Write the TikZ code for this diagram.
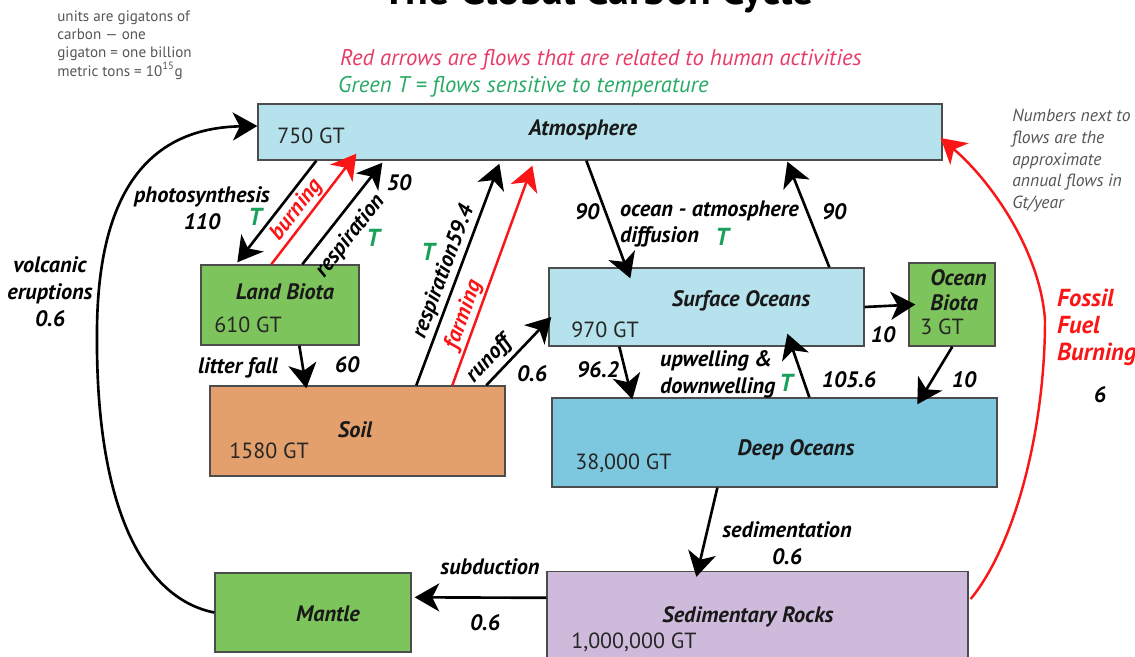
\documentclass[tikz,border=0pt]{standalone}
\usepackage{fontspec}
\setmainfont{PT Sans}
\usepackage{tikz}
\usetikzlibrary{arrows.meta,calc}
\definecolor{airblue}{RGB}{181,226,236}
\definecolor{deepblue}{RGB}{125,200,222}
\definecolor{biogreen}{RGB}{126,196,92}
\definecolor{soilbrown}{RGB}{228,160,108}
\definecolor{rockpurple}{RGB}{206,186,218}
\definecolor{humanred}{RGB}{250,22,22}
\definecolor{legendred}{RGB}{232,58,102}
\definecolor{legendgreen}{RGB}{40,170,100}
\definecolor{tempgreen}{RGB}{25,160,90}
\definecolor{notegray}{RGB}{85,85,85}

\begin{document}
\begin{tikzpicture}[
  x=0.02cm, y=-0.02cm,
  pool/.style={draw=black!70, line width=0.8pt, inner sep=0pt},
  poolname/.style={font=\fontsize{12.7}{14.5}\selectfont\bfseries\itshape, text=black!90, inner sep=0pt},
  amount/.style={font=\fontsize{12.5}{14}\selectfont, text=black!85, anchor=west, inner sep=0pt},
  flow/.style={-{Stealth[length=14pt,width=16pt,inset=4pt]}, line width=1.5pt},
  human/.style={flow, draw=humanred, line width=1.4pt},
  lbl/.style={font=\fontsize{12.7}{15.3}\selectfont\bfseries\itshape, inner sep=1pt},
  temp/.style={font=\fontsize{14}{15}\selectfont\bfseries\itshape, text=tempgreen, inner sep=0pt},
  note/.style={text=notegray, align=left, inner sep=0pt}
]
\useasboundingbox (0,0) rectangle (1135,656);
\clip (0,0) rectangle (1135,656);

% title and keys
\node[font=\fontsize{23.7}{26}\selectfont\bfseries, anchor=base] (title) at (598,4) {The Global Carbon Cycle};
\node[note, font=\fontsize{8.6}{10.5}\selectfont, anchor=north west] (units) at (57,10)
  {units are gigatons of\\carbon — one\\gigaton = one billion\\metric tons = 10\textsuperscript{15}g};
\node[font=\fontsize{12.9}{15}\selectfont\itshape, text=legendred, anchor=west] (redkey) at (334,60)
  {Red arrows are flows that are related to human activities};
\node[font=\fontsize{12.9}{15}\selectfont\itshape, text=legendgreen, anchor=west] (greenkey) at (332,87)
  {Green T = flows sensitive to temperature};
\node[note, font=\fontsize{10}{12.3}\selectfont\itshape, anchor=north west] (numkey) at (1012,109)
  {Numbers next to\\flows are the\\approximate\\annual flows in\\Gt/year};

% reservoirs
\node[pool, fill=airblue, minimum width=13.68cm, minimum height=1.12cm] (atmos) at (600,132) {};
\node[pool, fill=biogreen, minimum width=3.16cm, minimum height=1.6cm] (land) at (280,305) {};
\node[pool, fill=soilbrown, minimum width=5.9cm, minimum height=1.8cm] (soil) at (357.5,431) {};
\node[pool, fill=airblue, minimum width=6.3cm, minimum height=1.56cm] (surf) at (706.5,307) {};
\node[pool, fill=biogreen, minimum width=1.72cm, minimum height=1.66cm] (obiota) at (952,304.5) {};
\node[pool, fill=deepblue, minimum width=8.9cm, minimum height=1.78cm] (deep) at (774.5,442.5) {};
\node[pool, fill=rockpurple, minimum width=8.42cm, minimum height=1.9cm] (sed) at (757.5,619) {};
\node[pool, fill=biogreen, minimum width=3.92cm, minimum height=1.58cm] (mantle) at (313,612.5) {};

\node[poolname] (atmosname) at (583,130) {Atmosphere};
\node[amount] (atmosgt) at (277,136) {750 GT};
\node[poolname] (landname) at (285,292) {Land Biota};
\node[amount] (landgt) at (214,325) {610 GT};
\node[poolname] (soilname) at (355,430) {Soil};
\node[amount] (soilgt) at (229,451) {1580 GT};
\node[poolname] (surfname) at (741,301) {Surface Oceans};
\node[amount] (surfgt) at (571,330) {970 GT};
\node[poolname, align=left, anchor=west] (obioname) at (930,290) {Ocean\\Biota};
\node[amount] (obiogt) at (920,327) {3 GT};
\node[poolname] (deepname) at (796,450) {Deep Oceans};
\node[amount] (deepgt) at (575,463) {38,000 GT};
\node[poolname] (sedname) at (748,617) {Sedimentary Rocks};
\node[amount] (sedgt) at (571,642) {1,000,000 GT};
\node[poolname] (mantlename) at (328,614) {Mantle};

% land fluxes
\draw[flow] ($(atmos.south west)+(59,0)$) -- ($(land.north west)+(37,-2)$);
\draw[human] ($(land.north west)+(71,0)$) -- node[lbl, sloped, above=0pt, pos=0.42, text=humanred] (burnlbl) {burning} ($(atmos.south west)+(99,-7)$);
\draw[flow] ($(land.north west)+(102,0)$) -- node[lbl, sloped, below=4pt, pos=0.40] (resplbl) {respiration} ($(atmos.south west)+(125,2)$);
\draw[flow] ($(soil.north west)+(207,0)$) -- node[lbl, sloped, above=0.5pt, pos=0.49] (soilresplbl) {respiration59.4} ($(atmos.south west)+(242,3)$);
\draw[human] ($(soil.north west)+(243,0)$) -- node[lbl, sloped, above=0pt, pos=0.30, text=humanred] (farmlbl) {farming} ($(atmos.south west)+(275,5)$);
\draw[flow] ($(soil.north west)+(277,0)$) -- node[lbl, sloped, above=1.5pt, pos=0.22] (runofflbl) {runoff} ($(surf.west)+(3,10)$);
\draw[flow] ($(land.south west)+(99,0)$) -- ($(soil.north west)+(97,3)$);

\node[lbl, align=center] (photolbl) at (202,208) {photosynthesis\\110};
\node[temp] (phototemp) at (255,217) {T};
\node[lbl] (respnum) at (399,183) {50};
\node[temp] (resptemp) at (373,238) {T};
\node[temp] (soilresptemp) at (428,252) {T};
\node[lbl] (runoffnum) at (532,374) {0.6};
\node[lbl] (litterlbl) at (238,368) {litter fall};
\node[lbl] (litternum) at (347,365) {60};

% ocean fluxes
\draw[flow] ($(atmos.south west)+(329,0)$) -- ($(surf.north west)+(82,11)$);
\draw[flow] ($(surf.north west)+(281,0)$) -- ($(atmos.south west)+(530,1)$);
\draw[flow] (surf.east) -- ($(obiota.west)+(7,0)$);
\draw[flow] ($(obiota.south west)+(44,0)$) -- ($(deep.north west)+(366,7)$);
\draw[flow] ($(surf.south west)+(71,0)$) -- ($(deep.north west)+(81,2)$);
\draw[flow] ($(deep.north west)+(258,0)$) -- ($(surf.south west)+(239,-13)$);

\node[lbl] (downnum) at (587,212) {90};
\node[lbl, align=left, anchor=west] (difflbl) at (618,224) {ocean - atmosphere\\diffusion};
\node[temp] (difftemp) at (722,237) {T};
\node[lbl] (upnum) at (834,212) {90};
\node[lbl] (obionum) at (883,335) {10};
\node[lbl] (deepnum) at (964,380) {10};
\node[lbl] (downwnum) at (598,370) {96.2};
\node[lbl, align=left, anchor=west] (welllbl) at (658,374) {upwelling \&\\downwelling};
\node[temp] (welltemp) at (786,383) {T};
\node[lbl] (upwnum) at (849,380) {105.6};

% slow fluxes
\draw[flow] ($(deep.south west)+(166,0)$) -- ($(sed.north west)+(150,6)$);
\draw[flow] ($(sed.north west)+(0,27)$) -- ($(mantle.north east)+(3,25)$);
\draw[flow] (mantle.west) .. controls (150,600) and (95,520) .. (97,330)
  .. controls (98,190) and (150,128) .. ($(atmos.west)+(0,-6)$);
\draw[human] ($(sed.east)+(2,-20)$) .. controls (1015,545) and (1045,430) .. (1045,320)
  .. controls (1040,250) and (990,180) .. ($(atmos.east)+(-2,6)$);

\node[lbl, align=center] (sedlbl) at (787,543) {sedimentation\\0.6};
\node[lbl] (sublbl) at (490,567) {subduction};
\node[lbl] (subnum) at (485,623) {0.6};
\node[lbl, align=center] (volclbl) at (50,292) {volcanic\\eruptions\\0.6};
\node[lbl, font=\fontsize{14}{15.2}\selectfont\bfseries\itshape, text=humanred, align=left, anchor=north west] (fossillbl) at (1055,287) {Fossil\\Fuel\\Burning};
\node[lbl] (fossilnum) at (1100,395) {6};
\end{tikzpicture}
\end{document}
